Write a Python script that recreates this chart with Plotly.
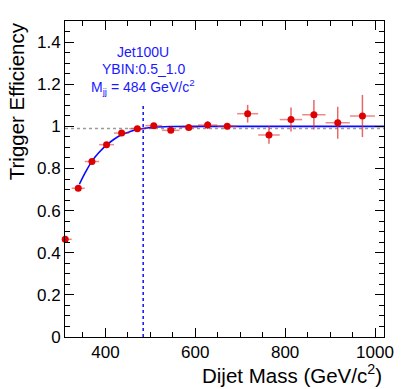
import plotly.graph_objects as go

# Data
mass = [310.5, 339.5, 370, 402.5, 436, 471, 507.5, 545.5, 585.5, 627.5, 671, 716.5, 764, 813, 864, 917, 972]
half_width = [14.5, 14.5, 16, 16.5, 17, 18, 18.5, 19.5, 20.5, 21.5, 22, 23.5, 24, 25, 26, 27, 28]
eff = [0.464, 0.706, 0.833, 0.913, 0.968, 0.989, 1.003, 0.981, 0.995, 1.006, 1.0, 1.060, 0.959, 1.032, 1.055, 1.017, 1.049]
eff_err = [0.008, 0.008, 0.008, 0.007, 0.006, 0.005, 0.006, 0.008, 0.014, 0.019, 0.014, 0.042, 0.042, 0.057, 0.07, 0.076, 0.10]

fit_x = [342, 355, 370, 385, 403, 420, 436, 455, 471, 484, 508, 546, 600, 700, 1020]
fit_y = [0.725, 0.78, 0.835, 0.875, 0.912, 0.94, 0.960, 0.975, 0.985, 0.99, 0.996, 0.999, 1.0, 1.0, 1.0]

m99 = 484
plateau_ref = 0.99
XMIN, XMAX = 310, 1020
YMIN, YMAX = 0, 1.5

err_minus = [min(h, x - XMIN) for x, h in zip(mass, half_width)]

FONT = "Liberation Sans, Arial, Helvetica, sans-serif"

fig = go.Figure()

# reference line at 99%
fig.add_trace(go.Scatter(x=[XMIN, XMAX], y=[plateau_ref, plateau_ref], mode="lines",
                         line=dict(color="#9a9a9a", width=1.5, dash="dot"), hoverinfo="skip"))
# vertical line at 99% point
fig.add_trace(go.Scatter(x=[m99, m99], y=[0, 1.11], mode="lines",
                         line=dict(color="#1010ee", width=1.5, dash="dot"), hoverinfo="skip"))
# fit curve
fig.add_trace(go.Scatter(x=fit_x, y=fit_y, mode="lines", line_shape="spline",
                         line=dict(color="#0a0aff", width=1.6), hoverinfo="skip"))
# data
fig.add_trace(go.Scatter(
    x=mass, y=eff, mode="markers",
    marker=dict(color="#dd0000", size=7),
    error_x=dict(type="data", array=half_width, arrayminus=err_minus, symmetric=False,
                 color="rgba(220,40,40,0.55)", thickness=1.5, width=0),
    error_y=dict(type="data", array=eff_err, color="rgba(220,40,40,0.7)", thickness=1.5, width=0),
    cliponaxis=False,
))

blue = "#1a1aff"
for txt, yv in [("Jet100U", 1.353), ("YBIN:0.5_1.0", 1.27), ("M<sub>jj</sub> = 484 GeV/c<sup>2</sup>", 1.188)]:
    fig.add_annotation(x=m99, y=yv, xref="x", yref="y", text=txt, showarrow=False,
                       font=dict(family=FONT, size=14, color=blue), xanchor="center", yanchor="middle")

fig.add_annotation(x=1.0, y=-0.118, xref="paper", yref="paper", text="Dijet Mass (GeV/c<sup>2</sup>)",
                   showarrow=False, xanchor="right", yanchor="middle",
                   font=dict(family=FONT, size=20.5, color="black"))
fig.add_annotation(x=-0.153, y=1.003, xref="paper", yref="paper", text="Trigger Efficiency",
                   showarrow=False, xanchor="center", yanchor="top", textangle=-90,
                   font=dict(family=FONT, size=20.5, color="black"))

axis_common = dict(showgrid=False, zeroline=False, showline=True, linecolor="black", linewidth=1,
                   mirror="allticks", ticks="inside", tickcolor="black",
                   tickfont=dict(family=FONT, size=17, color="black"))

fig.update_xaxes(range=[XMIN, XMAX], tickvals=[400, 600, 800, 1000], ticklen=9,
                 minor=dict(dtick=50, tick0=0, ticklen=5, ticks="inside", tickcolor="black"),
                 **axis_common)
fig.update_yaxes(range=[YMIN, YMAX], tickvals=[0, 0.2, 0.4, 0.6, 0.8, 1.0, 1.2, 1.4],
                 ticktext=["0", "0.2", "0.4", "0.6", "0.8", "1", "1.2", "1.4"], ticklen=9,
                 minor=dict(dtick=0.05, tick0=0, ticklen=5, ticks="inside", tickcolor="black"),
                 **axis_common)

fig.update_layout(width=406, height=389, margin=dict(l=65, r=20, t=21, b=52),
                  paper_bgcolor="white", plot_bgcolor="white", showlegend=False,
                  font=dict(family=FONT))

fig.write_html("out.html", config={"displayModeBar": False},
               post_script="document.body.style.margin='0';document.body.style.padding='0';"
                           "document.body.style.overflow='hidden';")
